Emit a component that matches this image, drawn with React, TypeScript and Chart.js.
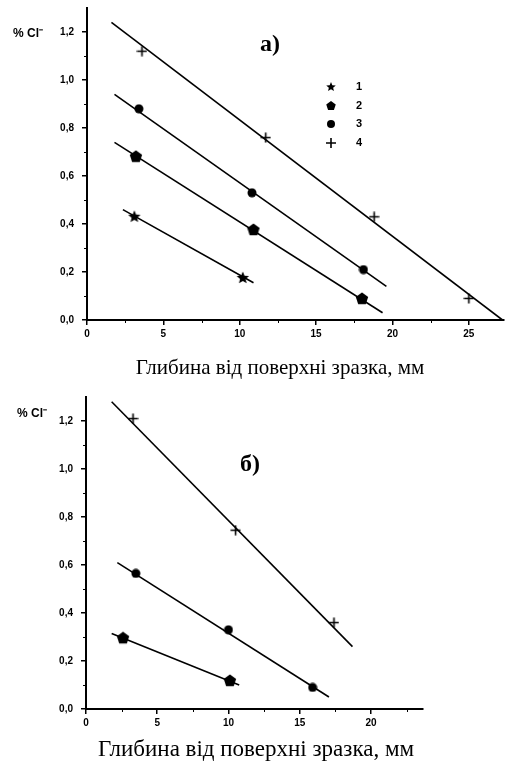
import React, { useEffect, useRef } from 'react';
import { Chart, registerables } from 'chart.js';

Chart.register(...registerables);

// ---------- Panel а) ----------
const depthA1 = [3.1, 10.2];
const clA1 = [0.43, 0.175];
const fitDepthA1 = [2.35, 10.9];
const fitClA1 = [0.46, 0.155];

const depthA2 = [3.2, 10.9, 18.0];
const clA2 = [0.68, 0.375, 0.088];
const fitDepthA2 = [1.8, 19.35];
const fitClA2 = [0.74, 0.03];

const depthA3 = [3.4, 10.8, 18.1];
const clA3 = [0.88, 0.53, 0.21];
const fitDepthA3 = [1.8, 19.6];
const fitClA3 = [0.94, 0.14];

const depthA4 = [3.6, 11.7, 18.8, 25.0];
const clA4 = [1.12, 0.76, 0.43, 0.09];
const fitDepthA4 = [1.6, 27.2];
const fitClA4 = [1.24, 0.0];

// ---------- Panel б) ----------
const depthB2 = [2.6, 10.1];
const clB2 = [0.295, 0.117];
const fitDepthB2 = [1.8, 10.75];
const fitClB2 = [0.315, 0.1];

const depthB3 = [3.5, 10.0, 15.9];
const clB3 = [0.565, 0.33, 0.09];
const fitDepthB3 = [2.2, 17.05];
const fitClB3 = [0.61, 0.05];

const depthB4 = [3.3, 10.5, 17.4];
const clB4 = [1.21, 0.745, 0.36];
const fitDepthB4 = [1.8, 18.7];
const fitClB4 = [1.28, 0.26];

// ---------- Ticks & texts ----------
const xTicksA = [0, 5, 10, 15, 20, 25];
const xMinorA = [2.5, 7.5, 12.5, 17.5, 22.5];
const xTicksB = [0, 5, 10, 15, 20];
const xMinorB = [2.5, 7.5, 12.5, 17.5, 22.5];
const yTicks = [0, 0.2, 0.4, 0.6, 0.8, 1.0, 1.2];
const yMinor = [0.1, 0.3, 0.5, 0.7, 0.9, 1.1];
const legendLabels = ['1', '2', '3', '4'];
const legendMarkers = ['star', 'pentagon', 'circle', 'plus'];
const xTitle = 'Глибина від поверхні зразка, мм';
const yTitle = '% Cl⁻';
const panelLabelA = 'а)';
const panelLabelB = 'б)';

type Series = { x: number[]; y: number[]; fx: number[]; fy: number[]; marker: string; size: number };

function drawMarker(g: CanvasRenderingContext2D, kind: string, cx: number, cy: number, r: number) {
  g.fillStyle = '#000';
  g.strokeStyle = '#000';
  if (kind === 'star') {
    g.beginPath();
    for (let i = 0; i < 10; i++) {
      const rr = i % 2 === 0 ? r : r * 0.45;
      const a = -Math.PI / 2 + (i * Math.PI) / 5;
      const px = cx + rr * Math.cos(a);
      const py = cy + rr * Math.sin(a);
      if (i === 0) g.moveTo(px, py); else g.lineTo(px, py);
    }
    g.closePath();
    g.fill();
  } else if (kind === 'pentagon') {
    g.beginPath();
    for (let i = 0; i < 5; i++) {
      const a = -Math.PI / 2 + (i * 2 * Math.PI) / 5;
      const px = cx + r * Math.cos(a);
      const py = cy + r * Math.sin(a);
      if (i === 0) g.moveTo(px, py); else g.lineTo(px, py);
    }
    g.closePath();
    g.fill();
  } else if (kind === 'circle') {
    g.beginPath();
    g.arc(cx, cy, r, 0, Math.PI * 2);
    g.fill();
  } else {
    g.lineWidth = 1.6;
    g.beginPath();
    g.moveTo(cx - r, cy);
    g.lineTo(cx + r, cy);
    g.moveTo(cx, cy - r);
    g.lineTo(cx, cy + r);
    g.stroke();
  }
}

function markerCanvas(kind: string, size: number) {
  const c = document.createElement('canvas');
  c.width = size;
  c.height = size;
  const g = c.getContext('2d')!;
  drawMarker(g, kind, size / 2, size / 2, size / 2 - 0.5);
  return c;
}

type Panel = {
  h: number;
  left: number; right: number; top: number; bottom: number;
  xMax: number; yMax: number;
  xTicks: number[]; xMinor: number[];
  series: Series[];
  label: string; labelX: number; labelY: number;
  titleX: number; titleY: number; titleSize: number;
  yTitleX: number; yTitleY: number;
  legend: boolean;
};

const panelA: Panel = {
  h: 381, left: 87, right: 509, top: 8, bottom: 320,
  xMax: 27.3, yMax: 1.3, xTicks: xTicksA, xMinor: xMinorA,
  series: [
    { x: depthA1, y: clA1, fx: fitDepthA1, fy: fitClA1, marker: 'star', size: 14 },
    { x: depthA2, y: clA2, fx: fitDepthA2, fy: fitClA2, marker: 'pentagon', size: 14 },
    { x: depthA3, y: clA3, fx: fitDepthA3, fy: fitClA3, marker: 'circle', size: 10 },
    { x: depthA4, y: clA4, fx: fitDepthA4, fy: fitClA4, marker: 'plus', size: 11 },
  ],
  label: panelLabelA, labelX: 270, labelY: 45,
  titleX: 280, titleY: 368, titleSize: 21,
  yTitleX: 13, yTitleY: 34,
  legend: true,
};

const panelB: Panel = {
  h: 381, left: 86, right: 423, top: 16, bottom: 328,
  xMax: 23.65, yMax: 1.3, xTicks: xTicksB, xMinor: xMinorB,
  series: [
    { x: depthB2, y: clB2, fx: fitDepthB2, fy: fitClB2, marker: 'pentagon', size: 14 },
    { x: depthB3, y: clB3, fx: fitDepthB3, fy: fitClB3, marker: 'circle', size: 10 },
    { x: depthB4, y: clB4, fx: fitDepthB4, fy: fitClB4, marker: 'plus', size: 11 },
  ],
  label: panelLabelB, labelX: 250, labelY: 84,
  titleX: 256, titleY: 369, titleSize: 23,
  yTitleX: 17, yTitleY: 33,
  legend: false,
};

function makeChart(canvas: HTMLCanvasElement, p: Panel) {
  const datasets: any[] = [];
  p.series.forEach((s) => {
    datasets.push({
      data: s.fx.map((x, i) => ({ x, y: s.fy[i] })),
      showLine: true,
      borderColor: '#000',
      borderWidth: 1.6,
      pointRadius: 0,
      fill: false,
    });
    datasets.push({
      data: s.x.map((x, i) => ({ x, y: s.y[i] })),
      showLine: false,
      pointStyle: markerCanvas(s.marker, s.size),
      pointRadius: s.size / 2,
      backgroundColor: '#000',
      borderColor: '#000',
    });
  });

  const tickFont = { family: 'Liberation Sans', weight: 'bold' as const, size: 10 };

  const annot = {
    id: 'annot',
    afterDraw(chart: any) {
      const ctx: CanvasRenderingContext2D = chart.ctx;
      const xs = chart.scales.x;
      const ys = chart.scales.y;
      const ca = chart.chartArea;
      ctx.save();
      ctx.strokeStyle = '#000';
      ctx.lineWidth = 1;
      p.xMinor.forEach((v) => {
        if (v > p.xMax) return;
        const px = Math.round(xs.getPixelForValue(v)) + 0.5;
        ctx.beginPath();
        ctx.moveTo(px, ca.bottom);
        ctx.lineTo(px, ca.bottom + 3);
        ctx.stroke();
      });
      yMinor.forEach((v) => {
        const py = Math.round(ys.getPixelForValue(v)) + 0.5;
        ctx.beginPath();
        ctx.moveTo(ca.left, py);
        ctx.lineTo(ca.left - 3, py);
        ctx.stroke();
      });

      ctx.fillStyle = '#000';
      ctx.textBaseline = 'middle';
      ctx.textAlign = 'left';
      ctx.font = 'bold 12px "Liberation Sans"';
      ctx.fillText(yTitle, p.yTitleX, p.yTitleY);

      ctx.textAlign = 'center';
      ctx.font = 'bold 24px "Liberation Serif"';
      ctx.fillText(p.label, p.labelX, p.labelY);

      ctx.font = `${p.titleSize}px "Liberation Serif"`;
      ctx.fillText(xTitle, p.titleX, p.titleY);

      if (p.legend) {
        const ly = [87, 106, 124, 143];
        legendLabels.forEach((t, i) => {
          drawMarker(ctx, legendMarkers[i], 331, ly[i], legendMarkers[i] === 'circle' ? 4 : 5);
          ctx.fillStyle = '#000';
          ctx.font = 'bold 11px "Liberation Sans"';
          ctx.textAlign = 'center';
          ctx.fillText(t, 359, ly[i]);
        });
      }
      ctx.restore();
    },
  };

  return new Chart(canvas, {
    type: 'scatter',
    data: { datasets },
    options: {
      responsive: false,
      animation: false,
      devicePixelRatio: 1,
      layout: { padding: { left: 0, top: p.top, right: 512 - p.right, bottom: 0 } },
      plugins: { legend: { display: false }, tooltip: { enabled: false } },
      scales: {
        x: {
          type: 'linear',
          min: 0,
          max: p.xMax,
          afterBuildTicks: (s: any) => {
            s.ticks = p.xTicks.map((v) => ({ value: v }));
          },
          afterFit: (s: any) => {
            s.height = p.h - p.bottom;
            s.paddingLeft = 0;
            s.paddingRight = 0;
          },
          ticks: { color: '#000', font: tickFont, padding: 3, maxRotation: 0, callback: (v: any) => String(v) },
          grid: { display: true, drawOnChartArea: false, drawTicks: true, tickLength: 5, color: '#000', lineWidth: 1.5 },
          border: { display: true, color: '#000', width: 2 },
        },
        y: {
          type: 'linear',
          min: 0,
          max: p.yMax,
          afterBuildTicks: (s: any) => {
            s.ticks = yTicks.map((v) => ({ value: v }));
          },
          afterFit: (s: any) => {
            s.width = p.left;
            s.paddingTop = 0;
            s.paddingBottom = 0;
          },
          ticks: {
            color: '#000',
            font: tickFont,
            padding: 8,
            callback: (v: any) => Number(v).toFixed(1).replace('.', ','),
          },
          grid: { display: true, drawOnChartArea: false, drawTicks: true, tickLength: 5, color: '#000', lineWidth: 1.5 },
          border: { display: true, color: '#000', width: 2 },
        },
      },
    },
    plugins: [annot],
  } as any);
}

export default function App() {
  const refA = useRef<HTMLCanvasElement>(null);
  const refB = useRef<HTMLCanvasElement>(null);
  useEffect(() => {
    const a = makeChart(refA.current!, panelA);
    const b = makeChart(refB.current!, panelB);
    return () => {
      a.destroy();
      b.destroy();
    };
  }, []);
  return (
    <div style={{ position: 'absolute', left: 0, top: 0, width: 512, height: 762, background: '#fff' }}>
      <canvas ref={refA} width={512} height={381} style={{ display: 'block' }} />
      <canvas ref={refB} width={512} height={381} style={{ display: 'block' }} />
    </div>
  );
}
